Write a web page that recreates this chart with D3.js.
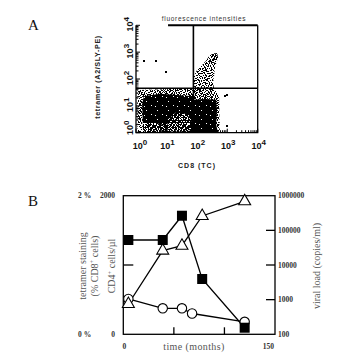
<!DOCTYPE html>
<html>
<head>
<meta charset="utf-8">
<script src="https://cdn.jsdelivr.net/npm/d3@7/dist/d3.min.js"></script>
<style>
  body { margin: 0; background: #fff; }
  svg { display: block; }
</style>
</head>
<body>
<svg id="fig" width="350" height="363"></svg>
<script>
// ---------- Panel A: CD8 (TC) vs tetramer (A2/SLY-PE) dot plot ----------
const decadeTicks = [1, 10, 100, 1000, 10000];
const quadrantCut = { cd8: 77, tetramer: 45 };

// Event cloud outlines as [CD8, tetramer] fluorescence intensities
const haloCloud = [[1.12, 1], [1.12, 39], [6, 41], [20, 43], [75, 44], [370, 44], [540, 23], [560, 1]];
const coreCloud = [[1.7, 1], [1.6, 12], [1.8, 23], [6.2, 28], [28, 25], [75, 23], [75, 17], [186, 18],
                   [430, 17], [460, 7], [430, 2], [500, 1]];
const coreLightPatches = [
  [[1.12, 1], [1.12, 2.6], [4, 2.4], [9, 1.8], [9, 1]],
  [[11, 1.1], [11, 3], [20, 5.5], [45, 5], [65, 3], [60, 1.1]]
];
const diagonalCloud = [[75, 42], [75, 107], [100, 214], [186, 427], [270, 776], [427, 933],
                       [500, 603], [400, 302], [372, 141], [339, 78], [372, 42]];
const diagonalTip = [[219, 427], [316, 851], [457, 933], [500, 603], [339, 355]];
const sparseEvents = [[1.8, 480], [4.6, 480], [9.8, 186], [1000, 1.8], [950, 25], [510, 8], [850, 23]];

// ---------- Panel B: longitudinal follow-up ----------
const cd4Months = [5, 39, 58, 78, 120];
const cd4Counts = [1361, 1361, 1711, 798, 95];
const loadMonths = [5, 39, 58, 78, 120];
const viralLoad = [750, 26000, 36000, 260000, 690000];
const tetMonths = [5, 39, 58, 68, 120];
const tetPercent = [0.51, 0.375, 0.375, 0.30, 0.18];
const loadTicks = [100, 1000, 10000, 100000, 1000000];
const cd4Ticks = [1000];
const timeTicks = [50, 100];
const timeLabels = [0, 150];
const cd4Labels = [0, 2000];
const tetLabels = [0, 2];

const svg = d3.select("#fig");
const defs = svg.append("defs");

// speckle tiles; several tiles of different sizes are stacked so the grain does not repeat visibly
function stipple(id, w, h, cells, color) {
  const p = defs.append("pattern").attr("id", id)
    .attr("patternUnits", "userSpaceOnUse").attr("width", w).attr("height", h);
  p.selectAll("rect").data(cells).join("rect")
    .attr("x", d => d[0]).attr("y", d => d[1])
    .attr("width", 1).attr("height", 1).attr("fill", color);
}
stipple("k1", 7, 5, [[0,0],[3,0],[5,1],[1,2],[4,3],[6,3],[2,4]], "#000");
stipple("k2", 6, 7, [[1,0],[4,1],[0,3],[3,3],[5,5],[2,6],[1,5]], "#000");
stipple("k3", 5, 6, [[2,0],[0,1],[4,2],[1,3],[3,4],[0,5]], "#000");
stipple("k4", 9, 8, [[1,1],[5,0],[7,3],[2,4],[6,6],[0,7],[4,5],[8,7]], "#000");
stipple("w1", 7, 6, [[2,1],[5,3],[0,4],[4,5]], "#fff");
stipple("w2", 6, 7, [[0,0],[3,2],[5,4],[1,6],[2,4]], "#fff");
stipple("w3", 5, 5, [[1,1],[4,3],[2,4]], "#fff");
stipple("w4", 11, 9, [[3,2],[8,6],[1,7]], "#fff");

// ---- Panel A ----
const xA = d3.scaleLog().domain([1, 10000]).range([136, 257.7]);
const yA = d3.scaleLog().domain([1, 10000]).range([132.7, 25.3]);
const gA = svg.append("g");

defs.append("clipPath").attr("id", "clipA").append("rect")
  .attr("x", xA(1)).attr("y", yA(10000))
  .attr("width", xA(10000) - xA(1)).attr("height", yA(1) - yA(10000));

const area = d3.line().x(d => xA(d[0])).y(d => yA(d[1])).curve(d3.curveLinearClosed);
const cloud = gA.append("g").attr("clip-path", "url(#clipA)");
function layered(outline, fills) {
  fills.forEach(f => cloud.append("path").attr("d", area(outline))
    .attr("fill", f.startsWith("#") ? f : `url(#${f})`));
}
layered(haloCloud, ["k1", "k2", "k3"]);
layered(coreCloud, ["#000", "w4"]);
coreLightPatches.forEach(p => layered(p, ["w1", "w2", "w3"]));
layered(diagonalCloud, ["k1", "k2", "k4"]);
layered(diagonalTip, ["k1", "k2", "k3", "k4"]);
cloud.selectAll("rect.ev").data(sparseEvents).join("rect").attr("class", "ev")
  .attr("x", d => Math.round(xA(d[0])) - 1).attr("y", d => Math.round(yA(d[1])) - 1)
  .attr("width", 2).attr("height", 2).attr("fill", "#000");

// quadrant markers
gA.append("line").attr("x1", xA(quadrantCut.cd8)).attr("x2", xA(quadrantCut.cd8))
  .attr("y1", yA(10000)).attr("y2", yA(1)).attr("stroke", "#000").attr("stroke-width", 1.6);
gA.append("line").attr("x1", xA(1)).attr("x2", xA(10000))
  .attr("y1", yA(quadrantCut.tetramer)).attr("y2", yA(quadrantCut.tetramer))
  .attr("stroke", "#000").attr("stroke-width", 1.6);

// frame
const frameA = gA.append("g").attr("stroke", "#000").attr("fill", "none");
frameA.append("path").attr("stroke-width", 1.3)
  .attr("d", `M${xA(1)},${yA(10000)}V${yA(1)}H${xA(10000)}V${yA(10000)}`);
frameA.append("line").attr("stroke-width", 2)
  .attr("x1", xA(11.3)).attr("x2", xA(10000)).attr("y1", yA(10000)).attr("y2", yA(10000));

// log ticks, inward
gA.append("g").selectAll("line").data(xA.ticks()).join("line")
  .attr("x1", d => xA(d)).attr("x2", d => xA(d))
  .attr("y1", yA(1)).attr("y2", d => yA(1) - (decadeTicks.includes(d) ? 4 : 2.5))
  .attr("stroke", "#000").attr("stroke-width", 1);
gA.append("g").selectAll("line").data(yA.ticks()).join("line")
  .attr("y1", d => yA(d)).attr("y2", d => yA(d))
  .attr("x1", xA(1)).attr("x2", d => xA(1) + (decadeTicks.includes(d) ? 4 : 2.5))
  .attr("stroke", "#000").attr("stroke-width", 1);

function powerLabel(sel, d) {
  const e = Math.round(Math.log10(d));
  sel.append("tspan").text("10");
  sel.append("tspan").attr("dy", -4).attr("font-size", 8).text(e);
}
const tickFont = "Liberation Sans, Arial, sans-serif";
gA.append("g").selectAll("text").data(decadeTicks).join("text")
  .attr("x", (d, i) => xA(d) + (i === 0 ? 4 : 1)).attr("y", 148.5)
  .attr("text-anchor", "middle").attr("font-family", tickFont)
  .attr("font-weight", "bold").attr("font-size", 9).attr("fill", "#111")
  .each(function (d) { powerLabel(d3.select(this), d); });
gA.append("g").selectAll("text").data(decadeTicks).join("text")
  .attr("transform", (d, i) => `translate(132.5,${yA(d) - (i === 0 ? 5 : 1)}) rotate(-90)`)
  .attr("text-anchor", "middle").attr("font-family", tickFont)
  .attr("font-weight", "bold").attr("font-size", 9).attr("fill", "#111")
  .each(function (d) { powerLabel(d3.select(this), d); });

gA.append("text").attr("x", 204).attr("y", 20.5).attr("text-anchor", "middle")
  .attr("font-family", tickFont).attr("font-size", 6.5).attr("letter-spacing", 0.7)
  .attr("fill", "#333").text("fluorescence intensities");
gA.append("text").attr("x", 197).attr("y", 167.5).attr("text-anchor", "middle")
  .attr("font-family", tickFont).attr("font-weight", "bold").attr("font-size", 7)
  .attr("letter-spacing", 1).attr("fill", "#222").text("CD8 (TC)");
gA.append("text").attr("transform", "translate(100,77) rotate(-90)").attr("text-anchor", "middle")
  .attr("font-family", tickFont).attr("font-weight", "bold").attr("font-size", 7.2)
  .attr("letter-spacing", 0.6).attr("fill", "#222").text("tetramer (A2/SLY-PE)");

svg.append("text").attr("x", 28).attr("y", 30).attr("font-family", "Liberation Serif, Times New Roman, serif")
  .attr("font-size", 15).attr("fill", "#111").text("A");
svg.append("text").attr("x", 28).attr("y", 206).attr("font-family", "Liberation Serif, Times New Roman, serif")
  .attr("font-size", 15).attr("fill", "#111").text("B");

// ---- Panel B ----
const serif = "Liberation Serif, Times New Roman, serif";
const xB = d3.scaleLinear().domain([0, 150]).range([123.3, 275]);
const yCD4 = d3.scaleLinear().domain([0, 2000]).range([334.3, 195.7]);
const yTet = d3.scaleLinear().domain([0, 2]).range([334.3, 195.7]);
const yLoad = d3.scaleLog().domain([100, 1000000]).range([334.3, 195.7]);
const gB = svg.append("g");

gB.append("rect").attr("x", xB(0)).attr("y", yCD4(2000))
  .attr("width", xB(150) - xB(0)).attr("height", yCD4(0) - yCD4(2000))
  .attr("fill", "none").attr("stroke", "#000").attr("stroke-width", 1.3);

gB.append("g").selectAll("line").data(cd4Ticks).join("line")
  .attr("x1", xB(0)).attr("x2", xB(0) + 10).attr("y1", d => yCD4(d)).attr("y2", d => yCD4(d))
  .attr("stroke", "#000").attr("stroke-width", 1.3);
gB.append("g").selectAll("line").data(timeTicks).join("line")
  .attr("x1", d => xB(d)).attr("x2", d => xB(d)).attr("y1", yCD4(0)).attr("y2", yCD4(0) - 7)
  .attr("stroke", "#000").attr("stroke-width", 1.3);
gB.append("g").selectAll("line").data(loadTicks.slice(1, -1)).join("line")
  .attr("x1", xB(150)).attr("x2", xB(150) - 9).attr("y1", d => yLoad(d)).attr("y2", d => yLoad(d))
  .attr("stroke", "#000").attr("stroke-width", 1.3);

const numStyle = s => s.attr("font-family", serif).attr("font-weight", "bold")
  .attr("font-size", 7.5).attr("fill", "#333");
gB.append("g").selectAll("text").data(loadTicks).join("text")
  .attr("x", 278).attr("y", d => yLoad(d) + 2.6).text(d3.format("d")).call(numStyle);
gB.append("g").selectAll("text").data(cd4Labels).join("text")
  .attr("x", 115).attr("y", d => yCD4(d) + 2.6).attr("text-anchor", "end").text(d => d).call(numStyle);
gB.append("g").selectAll("text").data(tetLabels).join("text")
  .attr("x", 78).attr("y", d => yTet(d) + 2.6).text(d => d + " %").call(numStyle);
gB.append("g").selectAll("text").data(timeLabels).join("text")
  .attr("x", (d, i) => i === 0 ? xB(d) + 1 : xB(d) - 1).attr("y", 348.5)
  .attr("text-anchor", (d, i) => i === 0 ? "middle" : "end").text(d => d).call(numStyle);

const labStyle = s => s.attr("font-family", serif).attr("font-size", 10).attr("fill", "#555");
gB.append("text").attr("x", 194).attr("y", 350).attr("text-anchor", "middle")
  .attr("letter-spacing", 0.4).text("time (months)").call(labStyle);
const cd4Lab = gB.append("text").attr("transform", "translate(115,266) rotate(-90)")
  .attr("text-anchor", "middle").call(labStyle);
cd4Lab.append("tspan").text("CD4");
cd4Lab.append("tspan").attr("dy", -3.5).attr("font-size", 6.5).text("+");
cd4Lab.append("tspan").attr("dy", 3.5).text(" cells/µl");
gB.append("text").attr("transform", "translate(85.5,266) rotate(-90)")
  .attr("text-anchor", "middle").text("tetramer staining").call(labStyle);
const pctLab = gB.append("text").attr("transform", "translate(97.5,266) rotate(-90)")
  .attr("text-anchor", "middle").call(labStyle);
pctLab.append("tspan").text("(% CD8");
pctLab.append("tspan").attr("dy", -3.5).attr("font-size", 6.5).text("+");
pctLab.append("tspan").attr("dy", 3.5).text(" cells)");
gB.append("text").attr("transform", "translate(320,266) rotate(-90)")
  .attr("text-anchor", "middle").text("viral load (copies/ml)").call(labStyle);

// series lines
const path = (xs, ys, yScale) => d3.line()(xs.map((m, i) => [xB(m), yScale(ys[i])]));
const lines = gB.append("g").attr("fill", "none").attr("stroke", "#000").attr("stroke-width", 1.3);
lines.append("path").attr("d", path(tetMonths, tetPercent, yTet));
lines.append("path").attr("d", path(loadMonths, viralLoad, yLoad));
lines.append("path").attr("d", path(cd4Months, cd4Counts, yCD4));

// markers
gB.append("g").selectAll("circle").data(tetMonths).join("circle")
  .attr("cx", d => xB(d)).attr("cy", (d, i) => yTet(tetPercent[i])).attr("r", 4.7)
  .attr("fill", "#fff").attr("stroke", "#000").attr("stroke-width", 1.1);
gB.append("g").selectAll("path").data(loadMonths).join("path")
  .attr("d", d3.symbol(d3.symbolTriangle, 62))
  .attr("transform", (d, i) => `translate(${xB(d)},${yLoad(viralLoad[i])})`)
  .attr("fill", "#fff").attr("stroke", "#000").attr("stroke-width", 1.1);
gB.append("g").selectAll("path").data(cd4Months).join("path")
  .attr("d", d3.symbol(d3.symbolSquare, 100))
  .attr("transform", (d, i) => `translate(${xB(d)},${yCD4(cd4Counts[i])})`)
  .attr("fill", "#000");
</script>
</body>
</html>
